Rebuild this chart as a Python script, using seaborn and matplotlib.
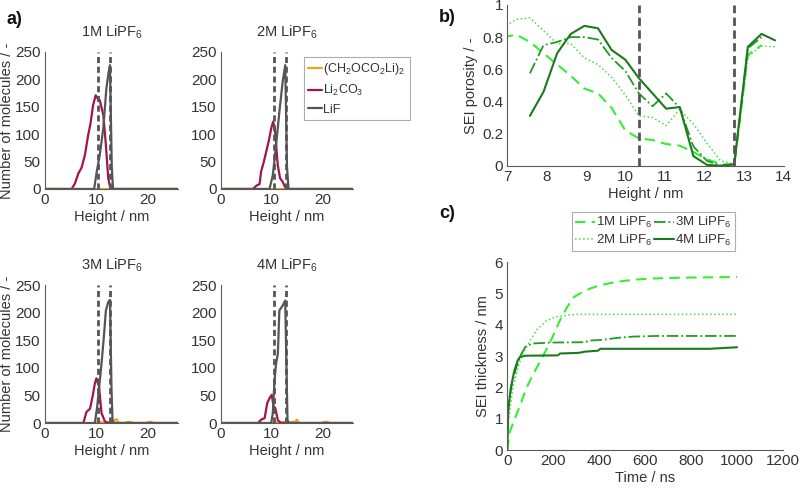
import numpy as np
import seaborn as sns
import matplotlib
matplotlib.use("Agg")
import matplotlib.pyplot as plt

sns.set_theme(style="white")
plt.rcParams['font.family'] = ['Liberation Sans', 'DejaVu Sans']
plt.rcParams['mathtext.default'] = 'regular'

# ---------------- data ----------------
# panel a: molecule distributions over height (nm)
a_titles = ['1M LiPF$_6$', '2M LiPF$_6$', '3M LiPF$_6$', '4M LiPF$_6$']
a_species = ['(CH$_2$OCO$_2$Li)$_2$', 'Li$_2$CO$_3$', 'LiF']

a1_edc_x = [0, 26]
a1_edc_y = [0, 0]
a1_li2co3_x = [0, 5.2, 5.85, 6.5, 7.15, 7.8, 8.45, 8.9, 9.4, 9.9, 10.3, 10.7, 11.4, 11.9, 12.35, 12.7, 13.0, 26]
a1_li2co3_y = [0, 0, 10, 28, 39, 62, 99, 120, 153, 171, 165, 162, 135, 80, 20, 4, 0, 0]
a1_lif_x = [0, 9.6, 10.1, 10.7, 11.4, 12.0, 12.45, 12.7, 13.05, 13.3, 26]
a1_lif_y = [0, 0, 31, 62, 111, 184, 214, 226, 40, 0, 0]

a2_edc_x = [0, 26]
a2_edc_y = [0, 0]
a2_li2co3_x = [0, 6.3, 6.95, 7.6, 7.9, 8.45, 8.9, 9.4, 9.9, 10.27, 10.66, 11.17, 11.63, 12.15, 12.6, 13.1, 26]
a2_li2co3_y = [0, 0, 6, 9, 32, 50, 68, 87, 111, 123, 105, 44, 20, 13, 4, 0, 0]
a2_lif_x = [0, 9.55, 10.2, 10.85, 11.5, 12.15, 12.65, 13.0, 13.3, 26]
a2_lif_y = [0, 0, 25, 80, 141, 196, 226, 40, 0, 0]

a3_edc_x = [0, 9.8, 10.5, 11.5, 12.5, 13.3, 13.7, 14.0, 14.4, 15.5, 16.2, 16.7, 17.3, 19.8, 20.3, 20.8, 21.2, 26]
a3_edc_y = [0, 0, 2, 1, 2, 0, 6, 7, 0, 0, 2, 2, 0, 0, 2, 2, 0, 0]
a3_li2co3_x = [0, 7.5, 8.1, 8.8, 9.3, 9.75, 10.05, 10.55, 11.05, 11.7, 12.3, 26]
a3_li2co3_y = [0, 0, 20, 26, 48, 72, 81, 66, 18, 3, 0, 0]
a3_lif_x = [0, 9.75, 10.2, 10.6, 11.05, 11.5, 11.9, 12.35, 12.7, 13.0, 13.2, 13.45, 26]
a3_lif_y = [0, 0, 30, 66, 108, 156, 204, 219, 223, 60, 5, 0, 0]

a4_edc_x = [0, 9.8, 10.5, 11.5, 12.5, 13.4, 14.0, 14.6, 14.95, 15.3, 19.8, 20.4, 21.0, 21.4, 26]
a4_edc_y = [0, 0, 2, 1, 2, 0, 2, 2, 6, 0, 0, 2, 2, 0, 0]
a4_li2co3_x = [0, 7.3, 7.9, 8.6, 9.1, 9.55, 10.0, 10.35, 10.7, 11.2, 11.8, 26]
a4_li2co3_y = [0, 0, 6, 9, 36, 45, 51, 30, 27, 5, 0, 0]
a4_lif_x = [0, 9.9, 10.2, 10.55, 10.85, 11.2, 11.5, 12.15, 12.65, 12.9, 13.1, 13.45, 26]
a4_lif_y = [0, 0, 18, 78, 108, 126, 204, 213, 222, 100, 5, 0, 0]

sei_bounds = [10.35, 12.75]

# panel b: SEI porosity over height
height_b = [6.885, 7.23, 7.575, 7.92, 8.265, 8.61, 8.955, 9.30, 9.645, 9.99, 10.335,
            10.68, 11.025, 11.37, 11.715, 12.06, 12.405, 12.75, 13.095, 13.44, 13.785]
por_1m = [0.80, 0.815, 0.77, 0.70, 0.63, 0.56, 0.48, 0.45, 0.36, 0.22, 0.17,
          0.16, 0.135, 0.125, 0.085, 0.04, 0.01, 0.005, 0.69, 0.75]
por_2m = [0.86, 0.91, 0.92, 0.84, 0.76, 0.76, 0.67, 0.63, 0.55, 0.44, 0.31,
          0.30, 0.25, 0.35, 0.26, 0.14, 0.03, 0.01, 0.68, 0.745, 0.74]
por_3m = [0.575, 0.75, 0.77, 0.80, 0.80, 0.785, 0.67, 0.59, 0.45,
          0.37, 0.45, 0.36, 0.12, 0.03, 0.0, 0.0, 0.73, 0.80]
por_4m = [0.31, 0.46, 0.70, 0.82, 0.87, 0.855, 0.72, 0.66, 0.545,
          0.45, 0.355, 0.365, 0.06, 0.005, 0.0, 0.01, 0.74, 0.82, 0.78]

# panel c: SEI thickness over time
t_1m = [0, 10, 30, 55, 85, 115, 145, 170, 200, 230, 260, 290, 330, 360, 400, 450, 500, 560, 620, 750, 1000]
th_1m = [0, 0.55, 0.95, 1.4, 2.0, 2.45, 2.85, 3.2, 3.65, 4.15, 4.55, 4.88, 5.05, 5.15, 5.25, 5.33, 5.39, 5.44, 5.47, 5.5, 5.52]
t_2m = [0, 5, 25, 50, 70, 100, 130, 170, 210, 260, 300, 1000]
th_2m = [0, 0.95, 2.0, 2.7, 3.1, 3.5, 3.85, 4.12, 4.25, 4.3, 4.33, 4.33]
t_3m = [0, 5, 20, 40, 60, 80, 110, 200, 340, 355, 420, 480, 550, 650, 1000]
th_3m = [0, 1.35, 2.1, 2.65, 3.05, 3.3, 3.4, 3.43, 3.44, 3.49, 3.52, 3.58, 3.62, 3.64, 3.64]
t_4m = [0, 5, 15, 30, 45, 55, 80, 220, 230, 310, 340, 395, 405, 880, 1000]
th_4m = [0, 1.3, 1.95, 2.5, 2.85, 2.97, 3.01, 3.02, 3.08, 3.1, 3.14, 3.17, 3.23, 3.23, 3.28]

conc_labels = ['1M LiPF$_6$', '2M LiPF$_6$', '3M LiPF$_6$', '4M LiPF$_6$']

# ---------------- styling ----------------
text_c = '#333333'
species_colors = ['#EDA520', '#A2144F', '#555555']
green_colors = ['#33EE33', '#44DD44', '#1E9E1E', '#1C7A1C']
green_styles = [(0, (5, 3)), ':', '-.', '-']
green_widths = [1.5, 1.1, 1.3, 1.5]
vline_c = '#555555'

fig = plt.figure(figsize=(8, 4.9), dpi=100)


def style_ax(ax):
    sns.despine(ax=ax)
    for s in ['left', 'bottom']:
        ax.spines[s].set_color('#5a5a5a')
        ax.spines[s].set_linewidth(0.8)
    ax.tick_params(direction='in', length=3, width=0.6, colors=text_c,
                   labelsize=11, pad=3)


a_pos = [[0.05625, 0.6143, 0.1663, 0.2796],
         [0.27625, 0.6143, 0.165, 0.2796],
         [0.05625, 0.1367, 0.1663, 0.2816],
         [0.27625, 0.1367, 0.165, 0.2816]]
a_data = [
    [(a1_edc_x, a1_edc_y), (a1_li2co3_x, a1_li2co3_y), (a1_lif_x, a1_lif_y)],
    [(a2_edc_x, a2_edc_y), (a2_li2co3_x, a2_li2co3_y), (a2_lif_x, a2_lif_y)],
    [(a3_edc_x, a3_edc_y), (a3_li2co3_x, a3_li2co3_y), (a3_lif_x, a3_lif_y)],
    [(a4_edc_x, a4_edc_y), (a4_li2co3_x, a4_li2co3_y), (a4_lif_x, a4_lif_y)],
]

for i in range(4):
    ax = fig.add_axes(a_pos[i])
    for j, (xs, ys) in enumerate(a_data[i]):
        sns.lineplot(x=xs, y=ys, ax=ax, color=species_colors[j], linewidth=1.6,
                     label=a_species[j] if i == 1 else None)
    for xv in sei_bounds:
        ax.plot([xv, xv], [0, 250], color=vline_c, linewidth=2,
                linestyle=(0, (2.2, 1.3)), zorder=5)
    ax.set_xlim(0, 26)
    ax.set_ylim(0, 250)
    ax.set_xticks([0, 10, 20])
    ax.set_yticks([0, 50, 100, 150, 200, 250])
    ax.set_title(a_titles[i], fontsize=10.5, color=text_c, pad=11)
    ax.set_xlabel('Height / nm', fontsize=10.5, color=text_c, labelpad=2)
    if i in (0, 2):
        ax.set_ylabel('Number of molecules / -', fontsize=10.5, color=text_c, labelpad=1)
    style_ax(ax)
    if i == 1:
        leg = ax.legend(loc='upper left', bbox_to_anchor=(304 / 800, 1 - 57 / 490),
                        bbox_transform=fig.transFigure, fontsize=9,
                        handlelength=1.1, handletextpad=0.1, borderpad=0.35,
                        labelspacing=0.45, fancybox=False, borderaxespad=0)
        leg.get_frame().set_edgecolor('#999999')
        leg.get_frame().set_linewidth(0.8)
        for t in leg.get_texts():
            t.set_color(text_c)
    elif ax.get_legend() is not None:
        ax.get_legend().remove()

# panel b
axb = fig.add_axes([0.634, 0.6618, 0.3455, 0.328])
por_series = [(height_b[:20], por_1m), (height_b, por_2m),
              (height_b[2:20], por_3m), (height_b[2:], por_4m)]
for k, (xs, ys) in enumerate(por_series):
    sns.lineplot(x=xs, y=ys, ax=axb, color=green_colors[k],
                 linewidth=green_widths[k], linestyle=green_styles[k])
for xv in sei_bounds:
    axb.plot([xv, xv], [0, 1], color=vline_c, linewidth=2,
             linestyle=(0, (3, 1.6)), zorder=5)
axb.set_xlim(7, 14)
axb.set_ylim(0, 1)
axb.set_xticks(range(7, 15))
axb.set_yticks([0, 0.2, 0.4, 0.6, 0.8, 1])
axb.set_yticklabels(['0', '0.2', '0.4', '0.6', '0.8', '1'])
axb.set_xlabel('Height / nm', fontsize=10.5, color=text_c, labelpad=2)
axb.set_ylabel('SEI porosity / -', fontsize=10.5, color=text_c, labelpad=3)
style_ax(axb)

# panel c
axc = fig.add_axes([0.634, 0.0816, 0.3448, 0.3837])
th_series = [(t_1m, th_1m), (t_2m, th_2m), (t_3m, th_3m), (t_4m, th_4m)]
for k, (xs, ys) in enumerate(th_series):
    sns.lineplot(x=xs, y=ys, ax=axc, color=green_colors[k],
                 linewidth=green_widths[k], linestyle=green_styles[k],
                 label=conc_labels[k])
axc.set_xlim(0, 1200)
axc.set_ylim(0, 6)
axc.set_xticks(range(0, 1201, 200))
axc.set_yticks(range(0, 7))
axc.set_xlabel('Time / ns', fontsize=10.5, color=text_c, labelpad=2)
axc.set_ylabel('SEI thickness / nm', fontsize=10.5, color=text_c, labelpad=3)
style_ax(axc)
legc = axc.legend(loc='upper left', bbox_to_anchor=(572 / 800, 1 - 212 / 490),
                  bbox_transform=fig.transFigure, ncol=2, fontsize=9.5,
                  handlelength=1.5, handletextpad=0.1, columnspacing=0.1,
                  borderpad=0.25, labelspacing=0.2, fancybox=False, borderaxespad=0)
legc.get_frame().set_edgecolor('#999999')
legc.get_frame().set_linewidth(0.8)
for t in legc.get_texts():
    t.set_color(text_c)

# panel letters
fig.text(0.008, 1 - 20 / 490, 'a)', fontsize=13, fontweight='bold', va='center', color='#111111')
fig.text(0.549, 1 - 17 / 490, 'b)', fontsize=13, fontweight='bold', va='center', color='#111111')
fig.text(0.549, 1 - 213 / 490, 'c)', fontsize=13, fontweight='bold', va='center', color='#111111')

fig.savefig('out.png', dpi=100)
